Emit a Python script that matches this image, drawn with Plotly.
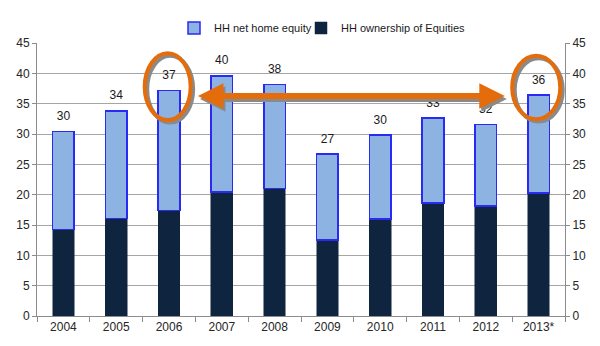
import plotly.graph_objects as go

# Household wealth components, $ trillions
years = ["2004", "2005", "2006", "2007", "2008", "2009", "2010", "2011", "2012", "2013*"]
equities = [14.3, 16.1, 17.4, 20.4, 21.0, 12.5, 16.0, 18.6, 18.1, 20.3]
home_equity = [16.1, 17.7, 19.8, 19.2, 17.2, 14.2, 13.8, 14.0, 13.5, 16.1]
y_ticks = [0, 5, 10, 15, 20, 25, 30, 35, 40, 45]

totals = [round(a + b, 1) for a, b in zip(equities, home_equity)]
total_labels = [f"{t:.0f}" for t in totals]

W, H = 600, 346
M_L, M_R, M_T, M_B = 37, 35, 43, 28
Y_MAX = 45
PLOT_W = W - M_L - M_R
PX_PER_CAT = PLOT_W / len(years)
PX_PER_UNIT = (H - M_T - M_B) / Y_MAX

DARK = "#0F243E"
LIGHT = "#8DB3E2"
EDGE = "#2A2AF5"
ORANGE = "#E46C0A"
SHADOW = "#8A8A8A"
GRID = "#A6A6A6"
FONT = "Liberation Sans, Arial, sans-serif"

fig = go.Figure()
fig.add_trace(go.Bar(
    x=years, y=equities, name="HH ownership of Equities", legend="legend2",
    marker=dict(color=DARK, line=dict(color=DARK, width=0.5)),
))
fig.add_trace(go.Bar(
    x=years, y=home_equity, name="HH net home equity", legend="legend",
    marker=dict(color=LIGHT, line=dict(color=EDGE, width=1.5)),
))
# Total labels; the transparent marker keeps a small gap above each bar
fig.add_trace(go.Scatter(
    x=years, y=totals, mode="markers+text", text=total_labels,
    marker=dict(size=12, opacity=0),
    textposition="top center", textfont=dict(size=12, color="#1a1a1a", family=FONT),
    showlegend=False, hoverinfo="skip", yaxis="y2",
))


def dx(px):
    return px / PX_PER_CAT


def dy(px):
    return px / PX_PER_UNIT


# Highlight rings around the 2006 and 2013* totals (with a soft drop shadow)
rings = [
    (years.index("2006"), -0.46, 0.41, 32.3, 43.3),
    (years.index("2013*"), -0.50, 0.41, 32.45, 42.9),
]
shapes = []
for idx, a, b, y0, y1 in rings:
    for color, ox, oy in ((SHADOW, 2.5, -2.5), (ORANGE, 0, 0)):
        shapes.append(dict(
            type="circle", xref="x", yref="y", layer="above",
            x0=idx + a + dx(ox), x1=idx + b + dx(ox),
            y0=y0 + dy(oy), y1=y1 + dy(oy),
            line=dict(color=color, width=4), fillcolor="rgba(0,0,0,0)",
        ))

# Double-headed arrow linking the two highlighted years
arrow_y = 36.27
arrow_left = years.index("2006") + 0.52
arrow_right = years.index("2013*") - 0.64
annotations = []
for color, sx, sy in ((SHADOW, 2, -3), (ORANGE, 0, 0)):
    annotations.append(dict(
        x=arrow_right, y=arrow_y, ax=arrow_left, ay=arrow_y,
        xref="x", yref="y", axref="x", ayref="y",
        text="", showarrow=True, arrowside="end+start",
        arrowhead=2, startarrowhead=2, arrowsize=0.85, startarrowsize=0.85,
        arrowwidth=6, arrowcolor=color, standoff=0, startstandoff=0,
        xshift=sx, yshift=sy,
    ))

legend_style = dict(
    orientation="h", y=1.055, xanchor="left", yanchor="middle",
    font=dict(size=11, color="#1a1a1a", family=FONT),
    itemwidth=30, bgcolor="rgba(0,0,0,0)",
)
axis_font = dict(size=12, color="#262626", family=FONT)
fig.update_layout(
    width=W, height=H,
    margin=dict(l=M_L, r=M_R, t=M_T, b=M_B),
    barmode="stack", bargap=0.59,
    plot_bgcolor="white", paper_bgcolor="white",
    font=dict(family=FONT),
    showlegend=True,
    legend=dict(x=(174 - M_L) / PLOT_W, **legend_style),
    legend2=dict(x=(301 - M_L) / PLOT_W, **legend_style),
    xaxis=dict(
        type="category", range=[-0.5, len(years) - 0.5],
        showline=True, linecolor="#8C8C8C", linewidth=1,
        ticks="outside", tickson="boundaries", ticklen=5, tickcolor="#8C8C8C",
        tickfont=axis_font, showgrid=False,
    ),
    yaxis=dict(
        range=[0, Y_MAX], tickvals=y_ticks, showline=True, linecolor="#8C8C8C",
        ticks="outside", ticklen=4, tickcolor="#8C8C8C",
        showgrid=True, gridcolor=GRID, gridwidth=1, zeroline=False,
        tickfont=axis_font,
    ),
    yaxis2=dict(
        range=[0, Y_MAX], tickvals=y_ticks, overlaying="y", side="right",
        showline=True, linecolor="#8C8C8C", ticks="outside", ticklen=4,
        tickcolor="#8C8C8C", showgrid=False, zeroline=False, tickfont=axis_font,
    ),
    shapes=shapes,
    annotations=annotations,
)

fig.write_html("out.html")
